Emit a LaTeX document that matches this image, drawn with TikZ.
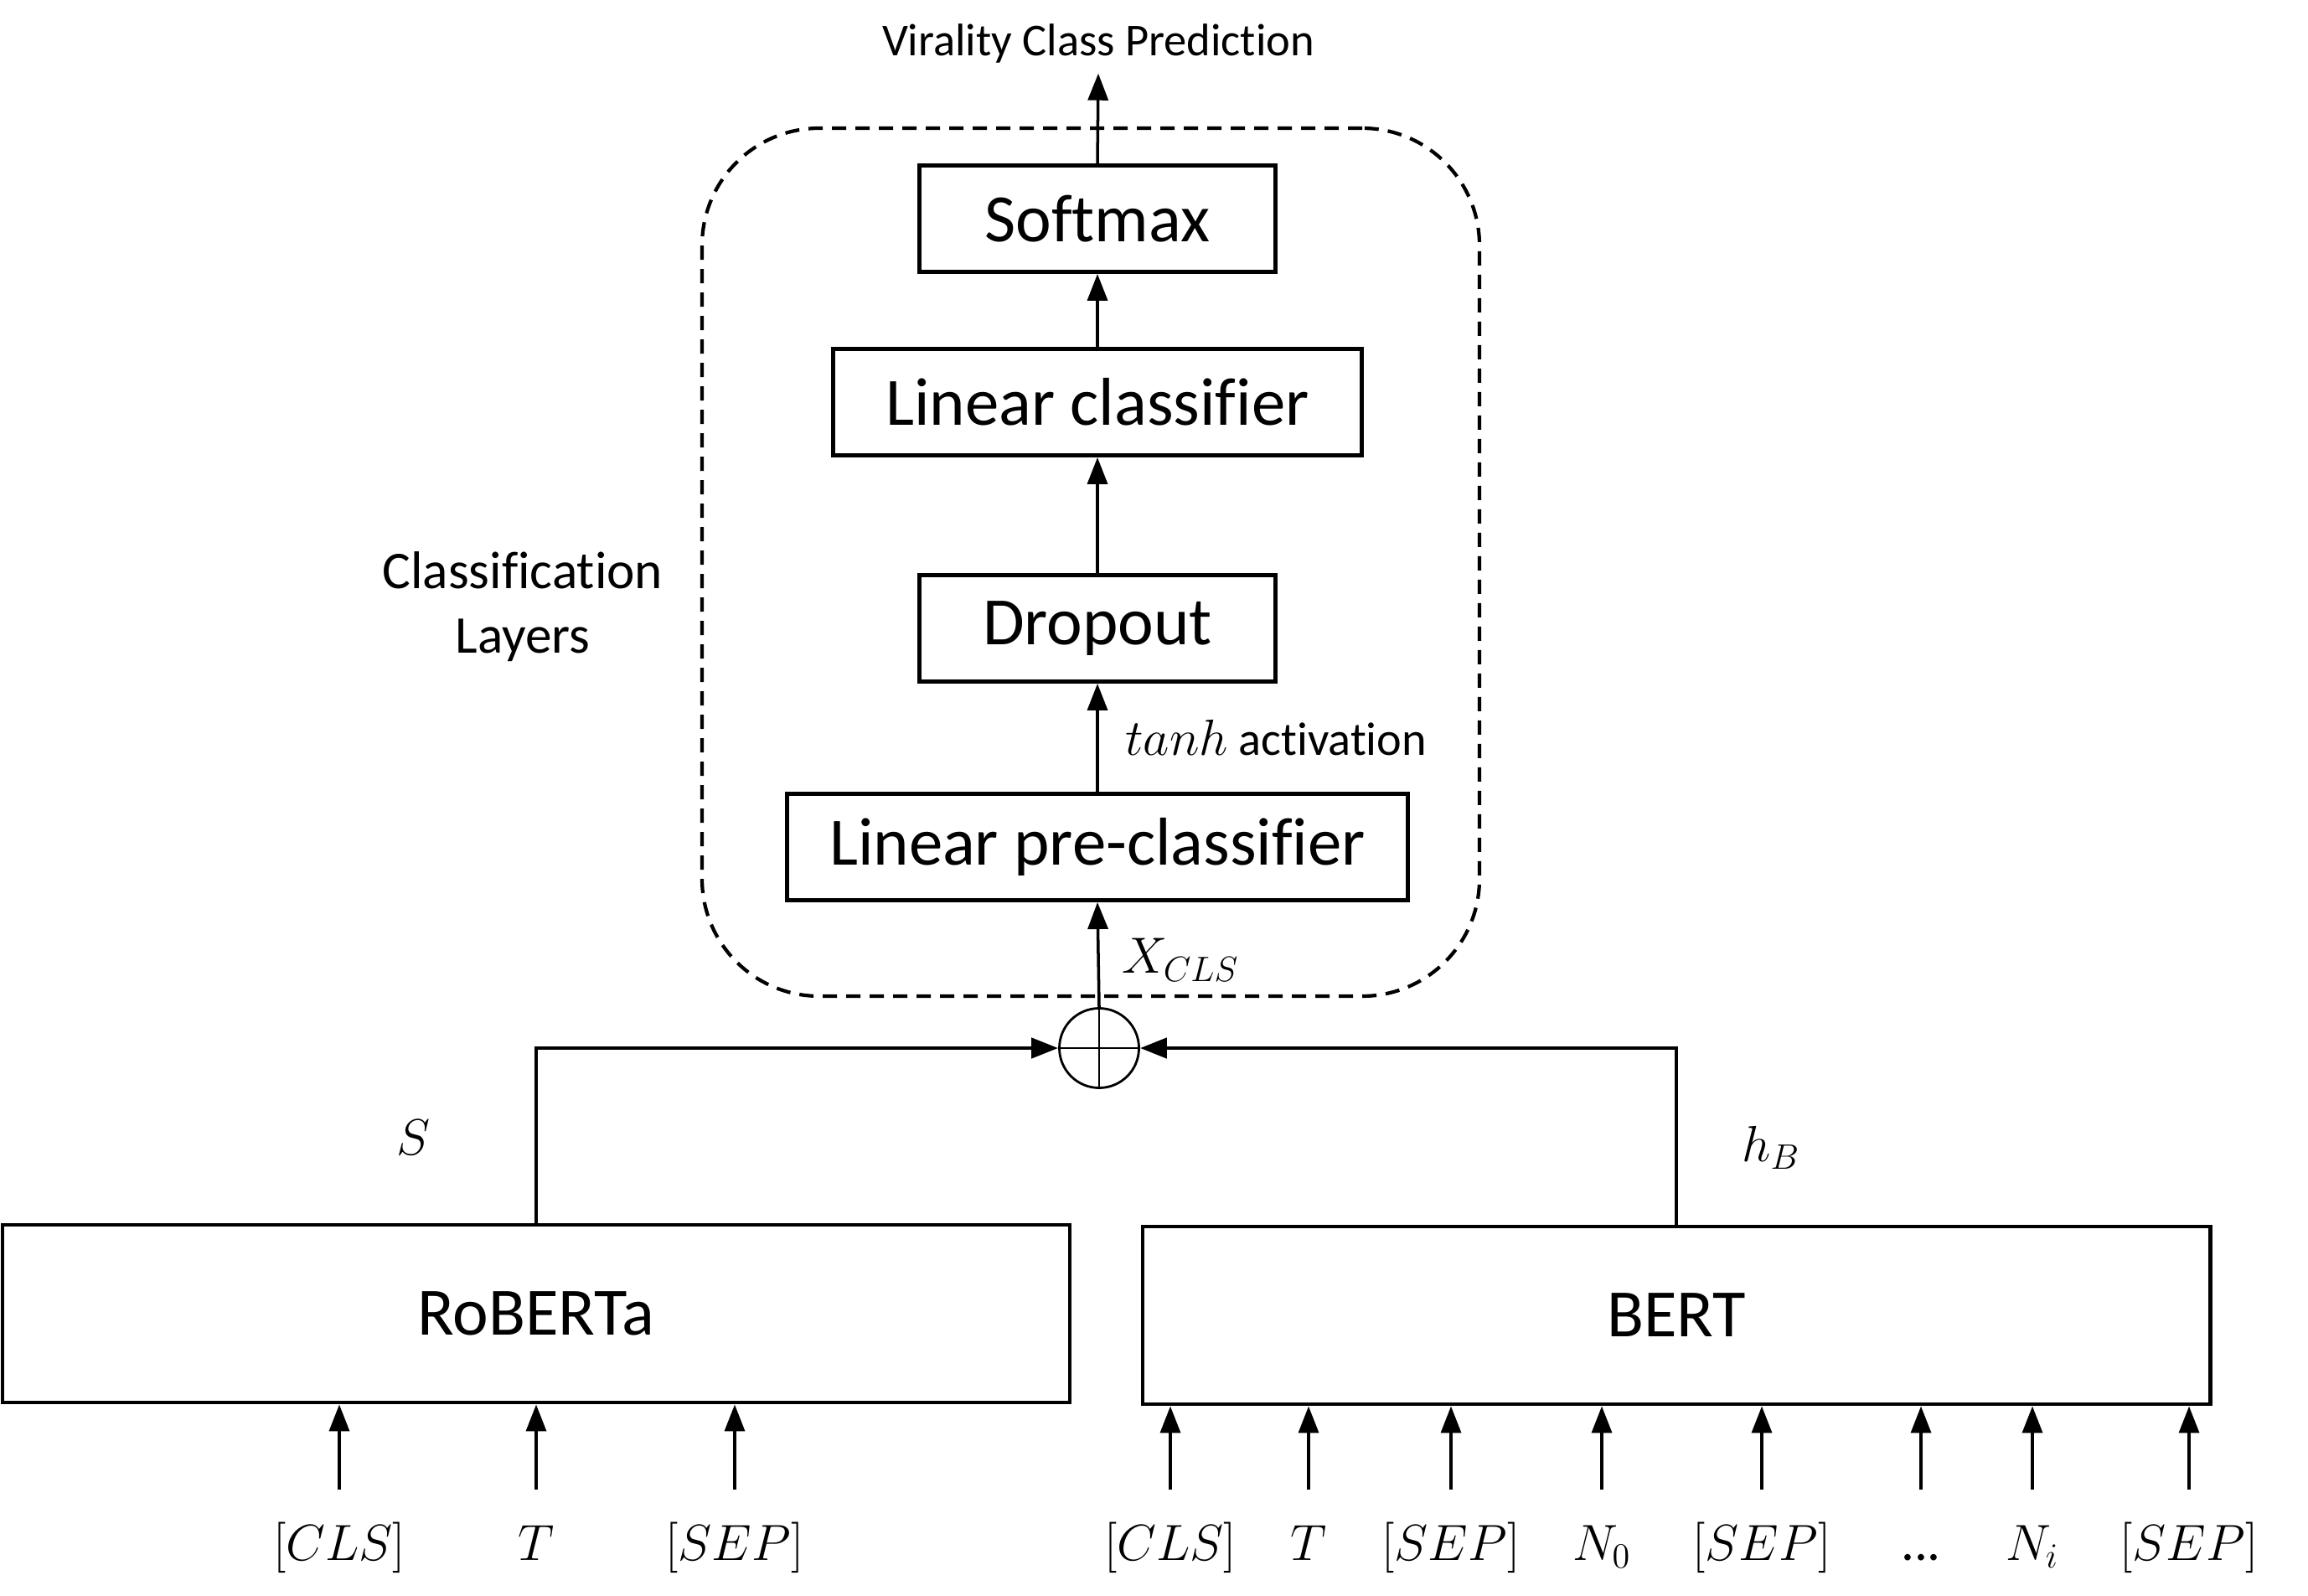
\documentclass[tikz,border=0pt]{standalone}
\usepackage{fontspec}
\setmainfont{Carlito}[Ligatures=NoCommon]
\usetikzlibrary{arrows.meta,positioning}

\begin{document}
\begin{tikzpicture}[
    >=Latex,
    flow/.style={-{Triangle[length=3.2mm,width=2.4mm]},line width=1pt},
    layer/.style={draw,line width=1.4pt,minimum height=1.27cm,inner sep=0pt,
      font=\fontsize{23}{27}\selectfont},
    encoder/.style={draw,line width=1.4pt,minimum width=12.74cm,minimum height=2.12cm,
      font=\fontsize{23}{27}\selectfont},
    token/.style={anchor=north,font=\fontsize{18}{22}\selectfont,text height=0.5cm,
      text depth=0.15cm,inner ysep=0.34cm,inner xsep=0pt},
    group/.style={draw,dash pattern=on 1.7mm off 1.1mm,line width=1.2pt,
      rounded corners=1.4cm,minimum width=9.28cm,minimum height=10.36cm},
    note/.style={font=\fontsize{15.5}{19}\selectfont}
  ]
    \useasboundingbox (0,0) rectangle (27.55,19.04);

    % classification layers
    \node[group] (layers) at (13.02,12.33) {};
    \node[note,font=\fontsize{18}{22}\selectfont,align=center] (grouplabel) at (6.24,11.80) {Classification\\Layers};

    \node[layer,minimum width=4.25cm] (softmax) at (13.1,16.43) {Softmax};
    \node[layer,minimum width=6.31cm] (lincls) at (13.1,14.24) {Linear classifier};
    \node[layer,minimum width=4.25cm] (dropout) at (13.1,11.54) {Dropout};
    \node[layer,minimum width=7.41cm] (precls) at (13.1,8.93) {Linear pre-classifier};
    \node[note] (title) at (13.11,18.52) {Virality Class Prediction};

    \draw[flow] (softmax.north) -- (title.south);
    \draw[flow] (lincls.north) -- (softmax.south);
    \draw[flow] (dropout.north) -- (lincls.south);
    \draw[flow] (precls.north) -- (dropout.south)
      node[note,font=\fontsize{16}{19}\selectfont,pos=0.5,anchor=west,xshift=0.2cm] (tanhlbl) {$tanh$ activation};

    % fusion
    \node[circle,draw,line width=0.8pt,minimum size=0.95cm,inner sep=0pt] (fuse) at (13.12,6.53) {};
    \draw[line width=0.8pt] (fuse.north) -- (fuse.south) (fuse.west) -- (fuse.east);
    \draw[flow] (fuse.north) -- (precls.south)
      node[pos=0.45,anchor=west,xshift=0.15cm,font=\fontsize{18}{22}\selectfont] (xcls) {$X_{CLS}$};

    % encoders
    \node[encoder] (roberta) at (6.40,3.36) {RoBERTa};
    \node[encoder] (bert) at (20.01,3.34) {BERT};

    \draw[flow,line width=1.3pt] (roberta.north) |- (fuse.west);
    \draw[flow,line width=1.3pt] (bert.north) |- (fuse.east);
    \node[font=\fontsize{18}{22}\selectfont] (slbl) at (4.94,5.46) {$S$};
    \node[font=\fontsize{18}{22}\selectfont] (hlbl) at (21.14,5.34) {$h_B$};

    % roberta inputs
    \node[token] (rcls) at (4.05,1.26) {$[CLS]$};
    \node[token] (rt) at (6.40,1.26) {$T$};
    \node[token] (rsep) at (8.77,1.26) {$[SEP]$};
    \draw[flow] (rcls) -- (rcls |- roberta.south);
    \draw[flow] (rt) -- (rt |- roberta.south);
    \draw[flow] (rsep) -- (rsep |- roberta.south);

    % bert inputs
    \node[token] (bcls) at (13.97,1.26) {$[CLS]$};
    \node[token] (bt) at (15.62,1.26) {$T$};
    \node[token] (bsep) at (17.32,1.26) {$[SEP]$};
    \node[token] (bn0) at (19.12,1.26) {$N_0$};
    \node[token] (bsep2) at (21.03,1.26) {$[SEP]$};
    \node[token] (bdots) at (22.93,1.26) {...};
    \node[token] (bni) at (24.26,1.26) {$N_i$};
    \node[token] (bsep3) at (26.13,1.26) {$[SEP]$};
    \draw[flow] (bcls) -- (bcls |- bert.south);
    \draw[flow] (bt) -- (bt |- bert.south);
    \draw[flow] (bsep) -- (bsep |- bert.south);
    \draw[flow] (bn0) -- (bn0 |- bert.south);
    \draw[flow] (bsep2) -- (bsep2 |- bert.south);
    \draw[flow] (bdots) -- (bdots |- bert.south);
    \draw[flow] (bni) -- (bni |- bert.south);
    \draw[flow] (bsep3) -- (bsep3 |- bert.south);
\end{tikzpicture}
\end{document}
